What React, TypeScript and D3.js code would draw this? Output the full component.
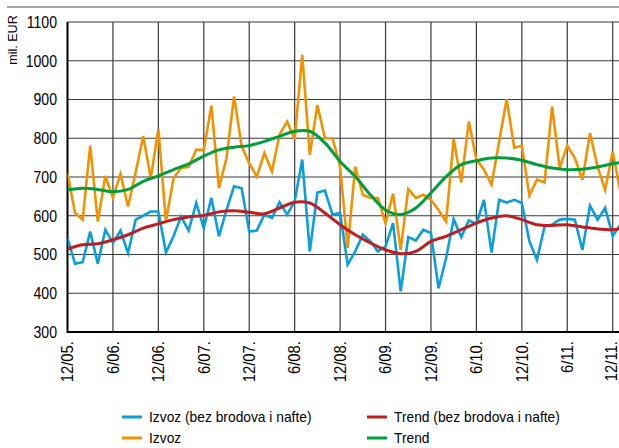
import React, { useRef, useEffect } from 'react';
import * as d3 from 'd3';

// mjesečni podaci, 12/05 .. 1/12
const izvoz = [
  710, 607, 590, 781, 585, 703, 646, 708, 624, 712, 805, 697, 824, 585, 697, 723, 726, 770, 770, 884,
  671, 749, 908, 779, 736, 701, 762, 714, 809, 843, 798, 1015, 757, 886, 800, 800, 728, 517, 727, 654,
  646, 646, 581, 657, 512, 669, 646, 654, 641, 615, 585, 798, 686, 843, 745, 719, 680, 791, 901, 775,
  781, 652, 693, 686, 882, 723, 781, 749, 693, 813, 727, 667, 766, 663,
];
const izvozBez = [
  542, 476, 480, 559, 476, 564, 530, 562, 504, 590, 600, 611, 611, 505, 547, 598, 562, 633, 568, 646,
  547, 615, 676, 671, 559, 562, 603, 594, 635, 603, 637, 745, 508, 660, 665, 603, 607, 474, 508, 551,
  534, 508, 521, 581, 405, 545, 536, 564, 555, 413, 491, 591, 545, 588, 579, 641, 505, 641, 634, 641,
  633, 534, 486, 572, 577, 590, 592, 590, 512, 626, 590, 620, 548, 577,
];
// trend očitan svaka dva mjeseca (+ zadnji mjesec)
const trendMonths = [
  0, 2, 4, 6, 8, 10, 12, 14, 16, 18, 20, 22, 24, 26, 28, 30, 32, 34, 36, 38,
  40, 42, 44, 46, 48, 50, 52, 54, 56, 58, 60, 62, 64, 66, 68, 70, 72, 73,
];
const trend = [
  667, 671, 668, 662, 668, 689, 703, 719, 734, 754, 770, 777, 781, 792, 805, 818, 818, 788, 740, 701,
  654, 615, 603, 620, 659, 701, 732, 742, 749, 749, 743, 732, 723, 719, 720, 726, 734, 737,
];
const trendBez = [
  514, 525, 528, 538, 551, 568, 579, 590, 597, 601, 610, 613, 609, 605, 620, 635, 633, 607, 577, 551,
  530, 512, 502, 508, 534, 547, 564, 581, 594, 600, 590, 577, 575, 577, 571, 566, 564, 566,
];
const tickMonths = [0, 6, 12, 18, 24, 30, 36, 42, 48, 54, 60, 66, 72];
const tickLabels = ['12/05.', '6/06.', '12/06.', '6/07.', '12/07.', '6/08.', '12/08.', '6/09.', '12/09.', '6/10.', '12/10.', '6/11.', '12/11.'];
const yTicks = [300, 400, 500, 600, 700, 800, 900, 1000, 1100];

const FONT = "'Liberation Sans', Arial, sans-serif";
const C_ORANGE = '#f39200';
const C_BLUE = '#0a9fdc';
const C_GREEN = '#009f3c';
const C_RED = '#be1e22';

function Chart() {
  const ref = useRef<SVGSVGElement>(null);
  const width = 619;
  const height = 448;

  useEffect(() => {
    const svg = d3.select(ref.current);
    svg.selectAll('*').remove();

    const left = 67.5;
    const right = 619;
    const x = d3.scaleLinear().domain([0, 72]).range([67.5, 612.7]);
    const y = d3.scaleLinear().domain([300, 1100]).range([332, 22]);

    // gornja linija
    svg.append('line')
      .attr('x1', 7).attr('x2', width).attr('y1', 7).attr('y2', 7)
      .attr('stroke', '#888').attr('stroke-width', 1.5);

    // mreža
    svg.append('g').selectAll('line').data(yTicks).join('line')
      .attr('x1', left).attr('x2', right)
      .attr('y1', d => y(d)).attr('y2', d => y(d))
      .attr('stroke', '#3a3a3a').attr('stroke-width', 1.2);
    svg.append('g').selectAll('line').data(tickMonths.slice(1)).join('line')
      .attr('x1', d => x(d)).attr('x2', d => x(d))
      .attr('y1', y(1100)).attr('y2', y(300))
      .attr('stroke', '#3a3a3a').attr('stroke-width', 1.2);

    // osi
    svg.append('line')
      .attr('x1', left).attr('x2', left).attr('y1', y(1100)).attr('y2', y(300) + 1)
      .attr('stroke', '#000').attr('stroke-width', 2);
    svg.append('line')
      .attr('x1', left).attr('x2', right).attr('y1', y(300)).attr('y2', y(300))
      .attr('stroke', '#000').attr('stroke-width', 2);

    // oznake y (suženi font, kao Arial Narrow)
    svg.append('g').selectAll('text').data(yTicks).join('text')
      .attr('transform', d => `translate(57,${y(d)}) scale(0.88,1)`)
      .attr('dy', '0.36em')
      .attr('text-anchor', 'end')
      .attr('font-family', FONT).attr('font-size', 16)
      .text(d => d);

    svg.append('text')
      .attr('transform', 'translate(17,40) rotate(-90) scale(0.93,1)')
      .attr('text-anchor', 'middle')
      .attr('font-family', FONT).attr('font-size', 13.5)
      .text('mil. EUR');

    // oznake x
    svg.append('g').selectAll('text').data(tickMonths).join('text')
      .attr('transform', d => `translate(${Math.min(x(d) + 5.8, 617)},341) rotate(-90) scale(0.93,1)`)
      .attr('text-anchor', 'end')
      .attr('font-family', FONT).attr('font-size', 16)
      .text((d, i) => tickLabels[i]);

    svg.append('clipPath').attr('id', 'plot-clip')
      .append('rect').attr('x', left).attr('y', 0).attr('width', right - left).attr('height', 340);

    const plot = svg.append('g').attr('clip-path', 'url(#plot-clip)');

    const rawLine = d3.line<number>()
      .x((d, i) => x(i))
      .y(d => y(d));
    const trendLine = d3.line<number>()
      .x((d, i) => x(trendMonths[i]))
      .y(d => y(d))
      .curve(d3.curveCatmullRom);

    plot.append('path').attr('d', rawLine(izvoz))
      .attr('fill', 'none').attr('stroke', C_ORANGE).attr('stroke-width', 2.6);
    plot.append('path').attr('d', rawLine(izvozBez))
      .attr('fill', 'none').attr('stroke', C_BLUE).attr('stroke-width', 2.6);
    plot.append('path').attr('d', trendLine(trend))
      .attr('fill', 'none').attr('stroke', C_GREEN).attr('stroke-width', 3);
    plot.append('path').attr('d', trendLine(trendBez))
      .attr('fill', 'none').attr('stroke', C_RED).attr('stroke-width', 3);

    // legenda
    const legend = [
      { name: 'Izvoz (bez brodova i nafte)', color: C_BLUE, lx: 122, ly: 417 },
      { name: 'Trend (bez brodova i nafte)', color: C_RED, lx: 367, ly: 417 },
      { name: 'Izvoz', color: C_ORANGE, lx: 122, ly: 438 },
      { name: 'Trend', color: C_GREEN, lx: 367, ly: 438 },
    ];
    const lg = svg.append('g').selectAll('g').data(legend).join('g')
      .attr('transform', d => `translate(${d.lx},${d.ly})`);
    lg.append('line')
      .attr('x1', 0).attr('x2', 20).attr('y1', 0).attr('y2', 0)
      .attr('stroke', d => d.color).attr('stroke-width', 3);
    lg.append('text')
      .attr('transform', 'translate(27,0) scale(0.92,1)')
      .attr('dy', '0.36em')
      .attr('font-family', FONT).attr('font-size', 15)
      .text(d => d.name);
  }, []);

  return (
    <svg
      ref={ref}
      width={width}
      height={height}
      style={{ position: 'absolute', left: 0, top: 0, background: '#fff' }}
    ></svg>
  );
}

export default function App() {
  return <Chart />;
}
